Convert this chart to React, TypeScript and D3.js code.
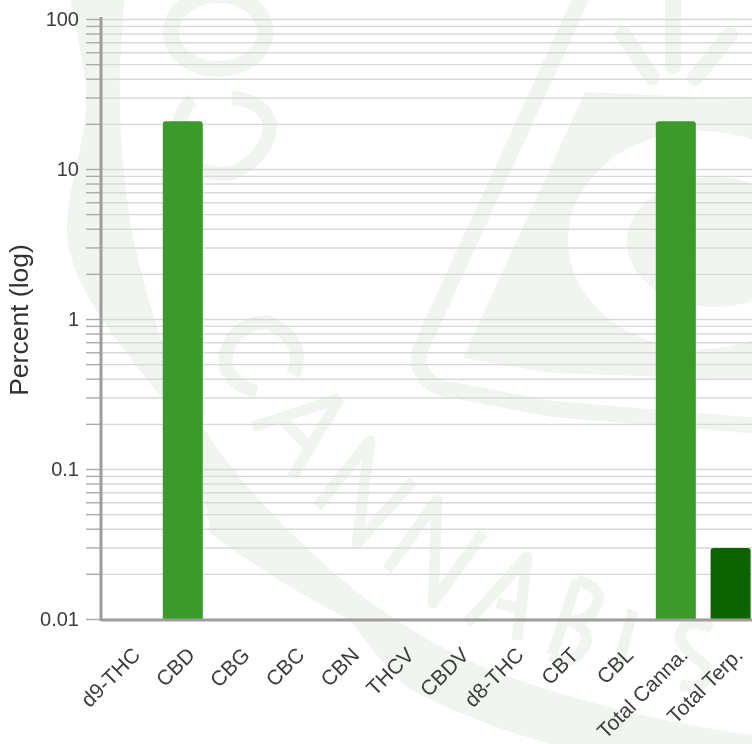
import React, { useEffect, useRef } from "react";
import * as d3 from "d3";

const categories = ["d9-THC", "CBD", "CBG", "CBC", "CBN", "THCV", "CBDV", "d8-THC", "CBT", "CBL", "Total Canna.", "Total Terp."];
const percentValues = [0, 21, 0, 0, 0, 0, 0, 0, 0, 0, 21, 0.03];
const barColors = ["#3a9a2c", "#3a9a2c", "#3a9a2c", "#3a9a2c", "#3a9a2c", "#3a9a2c", "#3a9a2c", "#3a9a2c", "#3a9a2c", "#3a9a2c", "#3a9a2c", "#0f6400"];
const yTickLabels = [100, 10, 1, 0.1, 0.01];
const minorMultiples = [2, 3, 4, 5, 6, 7, 8, 9];

const WM = "#f0f5f0";
const FONT = "'Liberation Sans', Arial, sans-serif";

function Watermark() {
  const strokes = [
    "M623 34L652 77", "M673 -8L673 66", "M730 35L695 78",
    "M584 -8L420 350Q414 378 442 388L552 409L760 426",
    "M253 427L340 398M340 398L292 477M281 418L308 446",
    "M317 507L370 441L357 543L413 481",
    "M387 570L437 500L433 603L483 533",
    "M467 623L527 557L517 640M497 603L527 610",
    "M577 580L552 655M577 580Q612 590 590 615Q572 625 565 618M565 618Q600 632 578 655Q562 668 552 655",
    "M633 610L617 670",
    "M712 628Q680 615 680 640Q690 655 705 665Q712 692 680 685",
    "M293 375Q308 340 267 322Q227 325 225 365Q232 385 257 392",
    "M193 100Q175 112 178 150Q195 178 233 173Q270 155 270 123Q262 100 232 98",
  ];
  return (
    <g>
      <path fill={WM} d="M70 -5C74 30 88 70 86 105C84 150 66 190 67 235C72 285 105 325 163 400C190 450 210 510 210 533C260 570 310 600 350 620C380 660 400 685 417 693C450 710 500 730 550 744L760 744L752 735C680 725 580 705 483 667C430 645 360 600 317 557C280 525 230 470 207 433C180 395 155 330 140 267C128 220 122 170 120 110C119 60 122 30 125 -5Z" />
      <path fill={WM} fillRule="evenodd" d="M585 92L463 358L552 373L760 380L760 100ZM568 240A132 109 0 1 0 832 240A132 109 0 1 0 568 240ZM627 242A88 65 0 1 1 803 242A88 65 0 1 1 627 242Z" />
      <ellipse cx={218} cy={32} rx={47} ry={37} fill="none" stroke={WM} strokeWidth={16} />
      {strokes.map((d, i) => (
        <path key={i} d={d} fill="none" stroke={WM} strokeWidth={i < 4 ? 16 : i > 10 ? 14 : 11} strokeLinecap={i < 3 ? "round" : "butt"} strokeLinejoin="round" />
      ))}
    </g>
  );
}

export default function App() {
  const ref = useRef<SVGGElement>(null);
  useEffect(() => {
    const g = d3.select(ref.current);
    g.selectAll("*").remove();
    const x = d3.scaleBand<string>().domain(categories).range([100.6, 758]).paddingInner(0.27).paddingOuter(0.135);
    const y = d3.scaleLog().domain([0.01, 100]).range([619.5, 19.5]);

    const decades = yTickLabels.slice(1);
    const minors = decades.flatMap((d) => minorMultiples.map((m) => d * m));
    const allTicks = [...yTickLabels, ...minors];

    g.append("g").selectAll("line").data(allTicks).join("line")
      .attr("x1", 101).attr("x2", 760)
      .attr("y1", (d) => y(d)).attr("y2", (d) => y(d))
      .attr("stroke", "#d8d8d8").attr("stroke-width", 1.4);
    g.append("g").selectAll("line").data(allTicks).join("line")
      .attr("x1", 86).attr("x2", 101)
      .attr("y1", (d) => y(d)).attr("y2", (d) => y(d))
      .attr("stroke", "#aaaaaa").attr("stroke-width", 1.4);

    const bars = categories.map((c, i) => ({ c, v: percentValues[i], col: barColors[i] })).filter((d) => d.v > 0);
    g.append("g").selectAll("path").data(bars).join("path")
      .attr("fill", (d) => d.col)
      .attr("d", (d) => {
        const x0 = x(d.c)!, x1 = x0 + x.bandwidth(), t = y(d.v), b = y(0.01), r = 3;
        const p = d3.path();
        p.moveTo(x0, b);
        p.lineTo(x0, t + r);
        p.arcTo(x0, t, x0 + r, t, r);
        p.lineTo(x1 - r, t);
        p.arcTo(x1, t, x1, t + r, r);
        p.lineTo(x1, b);
        p.closePath();
        return p.toString();
      });

    g.append("line").attr("x1", 101).attr("x2", 760).attr("y1", 620).attr("y2", 620).attr("stroke", "#a09c9c").attr("stroke-width", 3);
    g.append("line").attr("x1", 101).attr("x2", 101).attr("y1", 17).attr("y2", 621).attr("stroke", "#a09c9c").attr("stroke-width", 3);

    g.append("g").selectAll("text").data(yTickLabels).join("text")
      .attr("x", 79).attr("y", (d) => y(d) + 6)
      .attr("text-anchor", "end").attr("font-family", FONT).attr("font-size", 20).attr("fill", "#3c3c3c")
      .text((d) => String(d));

    g.append("g").selectAll("text").data(categories).join("text")
      .attr("transform", (d) => `translate(${x(d)! + x.bandwidth() / 2 + 3},${646}) rotate(-45)`)
      .attr("text-anchor", "end").attr("dy", "0.7em").attr("font-family", FONT).attr("font-size", 21).attr("fill", "#3c3c3c")
      .text((d) => d);

    g.append("text")
      .attr("transform", "translate(28,320) rotate(-90)")
      .attr("text-anchor", "middle").attr("font-family", FONT).attr("font-size", 26.5).attr("fill", "#333")
      .text("Percent (log)");
  }, []);

  return (
    <svg width={752} height={744} style={{ position: "absolute", left: 0, top: 0, background: "#fff" }}>
      <defs>
        <filter id="soft" x="-5%" y="-5%" width="110%" height="110%"><feGaussianBlur stdDeviation="0.45" /></filter>
      </defs>
      <g filter="url(#soft)">
        <Watermark />
        <g ref={ref} />
      </g>
    </svg>
  );
}
